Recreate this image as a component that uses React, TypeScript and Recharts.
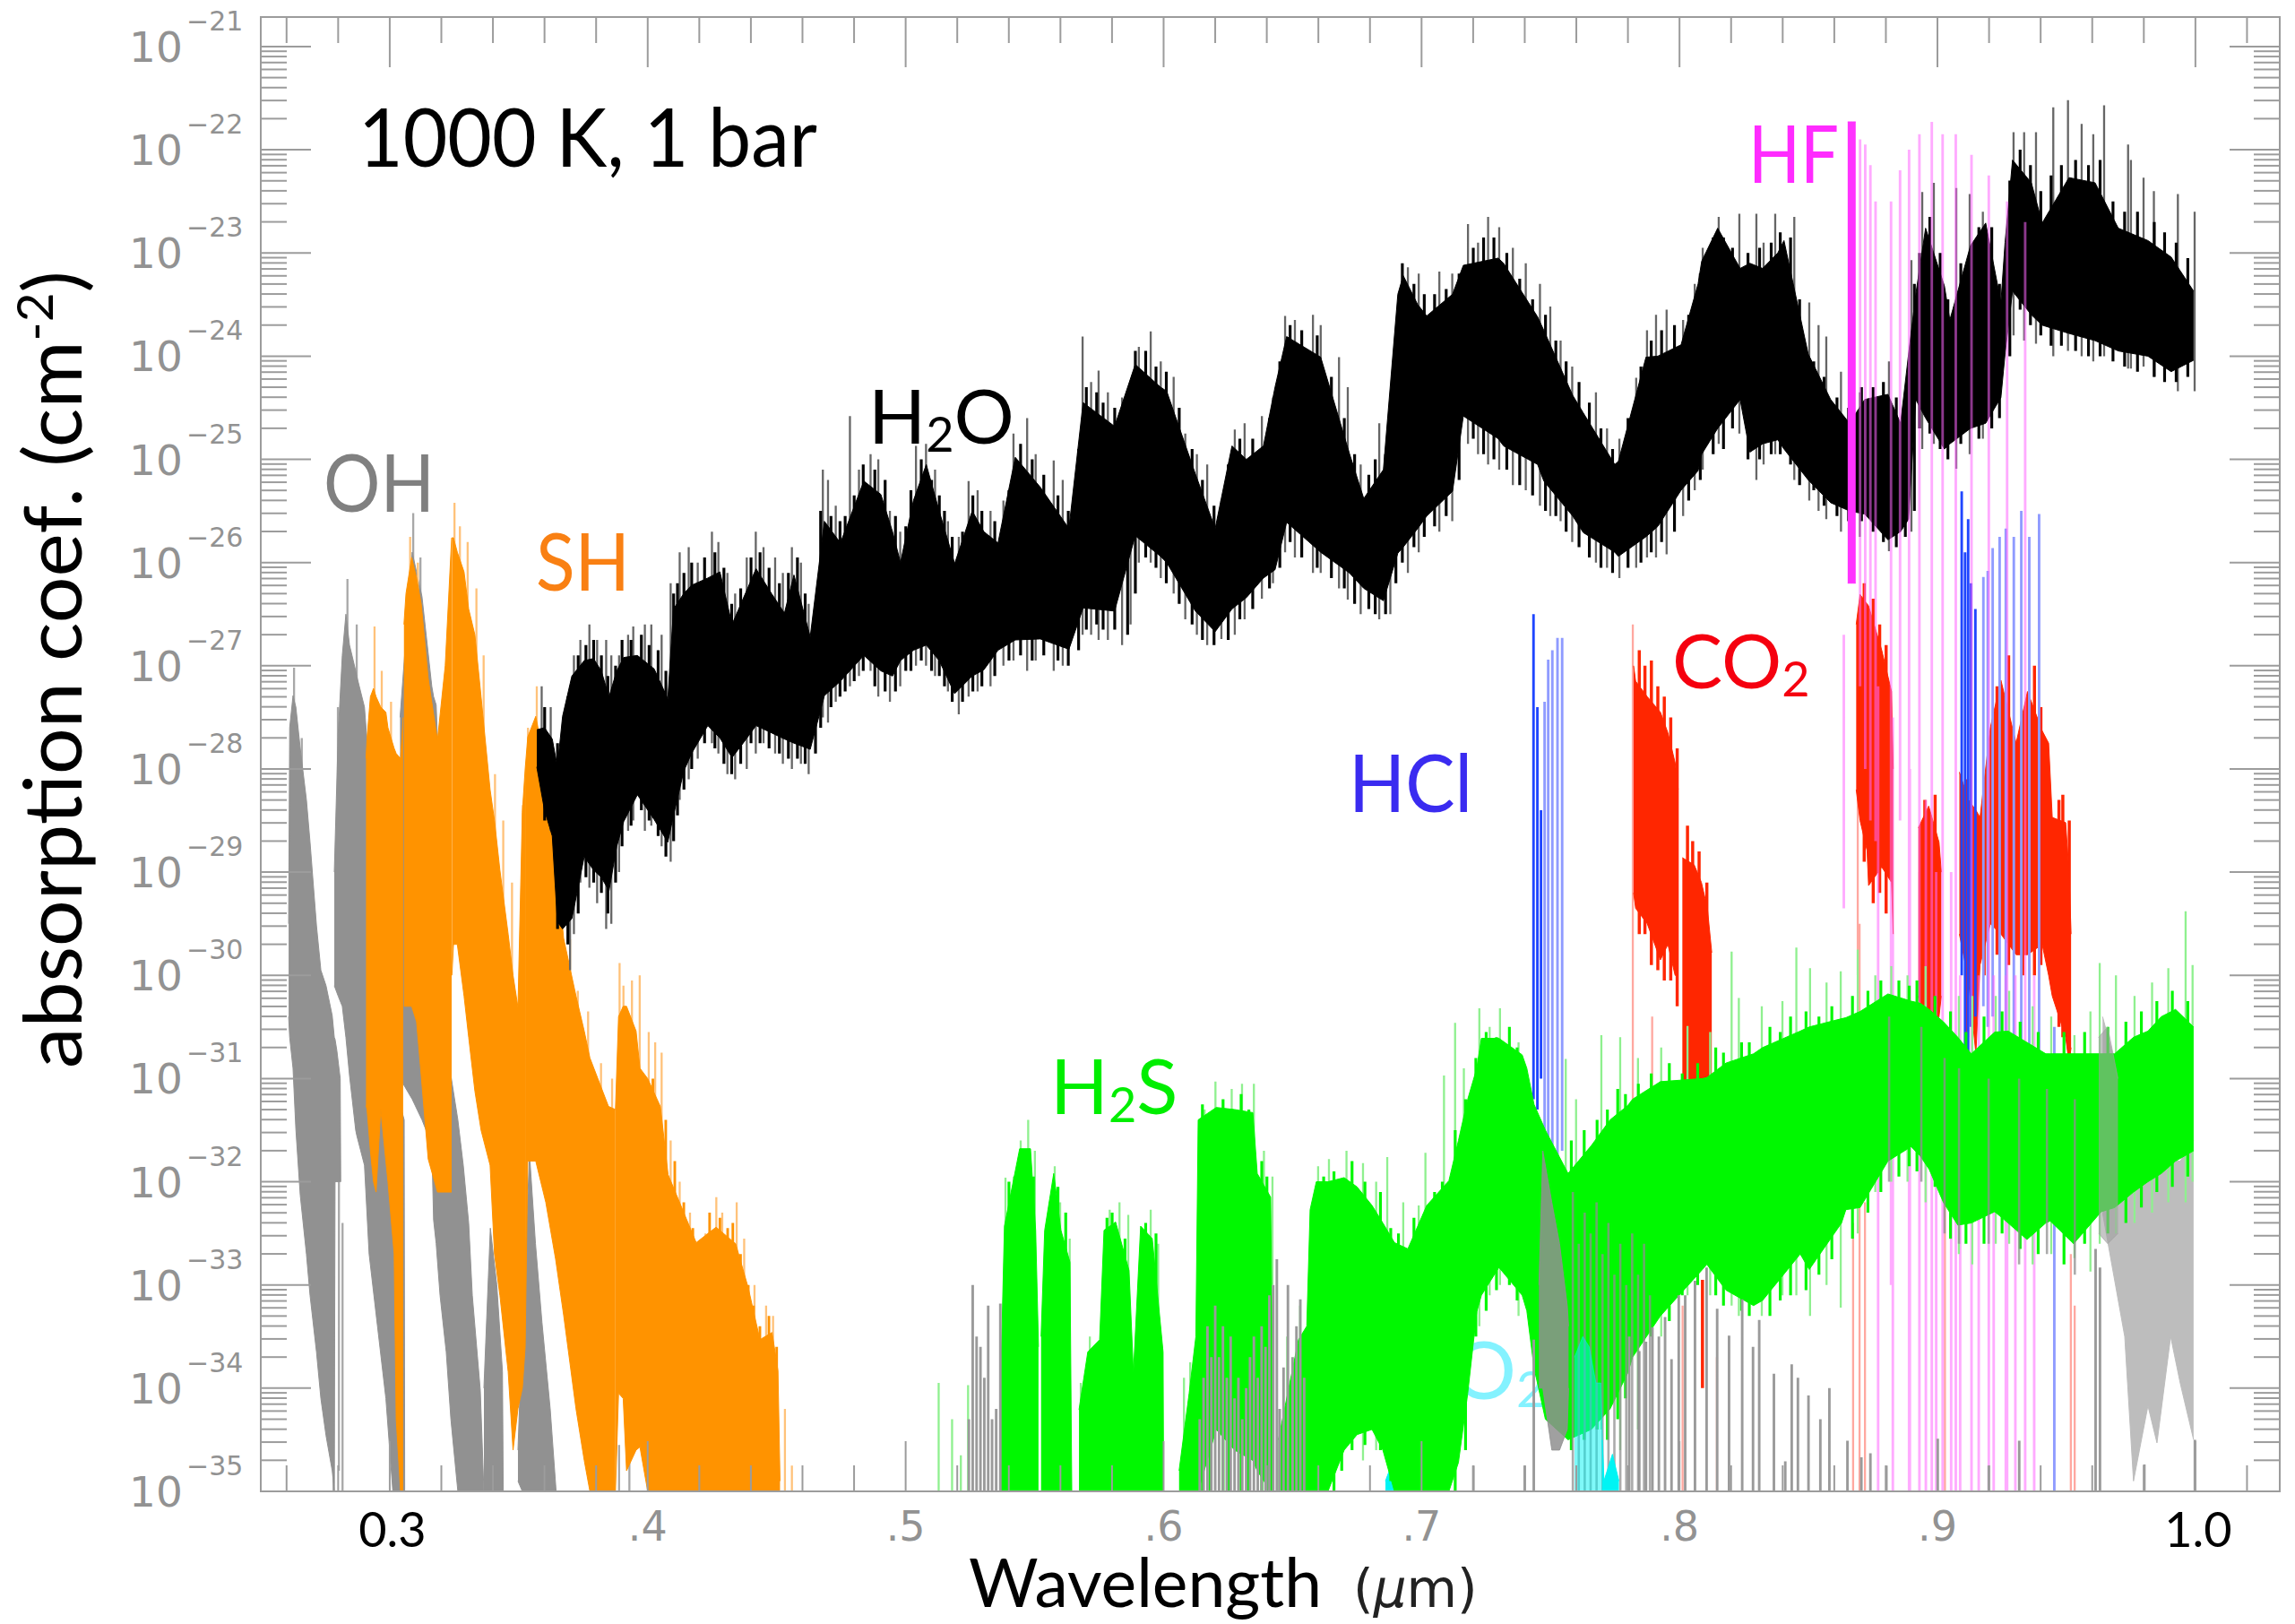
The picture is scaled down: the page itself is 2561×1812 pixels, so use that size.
import { Area, ComposedChart, ReferenceArea, XAxis, YAxis } from "recharts";

// log10 of the absorption coefficient is plotted, wavelength in microns
const FLOOR = -35;
const X_DOMAIN = [0.25, 1.0327];
const Y_DOMAIN = [-35, -20.714];

const xTicks = [0.26, 0.28, 0.3, 0.32, 0.34, 0.36, 0.38, 0.4, 0.42, 0.44, 0.46, 0.48, 0.5, 0.52, 0.54, 0.56, 0.58, 0.6, 0.62, 0.64, 0.66, 0.68, 0.7, 0.72, 0.74, 0.76, 0.78, 0.8, 0.82, 0.84, 0.86, 0.88, 0.9, 0.92, 0.94, 0.96, 0.98, 1.0, 1.02];
const grayXLabels = [0.4, 0.5, 0.6, 0.7, 0.8, 0.9];
const blackXLabels = [0.3, 1.0];
const decades = [-35, -34, -33, -32, -31, -30, -29, -28, -27, -26, -25, -24, -23, -22];
const multiples = [1, 2, 3, 4, 5, 6, 7, 8, 9];

// OH
const oh1X = [0.2608, 0.2612, 0.2625, 0.2636, 0.2653, 0.2677, 0.2691, 0.2716, 0.2733, 0.2753, 0.2777, 0.2785, 0.2788, 0.2795, 0.2808, 0.281];
const oh1Hi = [-29.5, -27.6, -27.29, -27.4, -27.8, -28.3, -28.71, -29.52, -29.95, -30.1, -30.39, -30.6, -30.62, -30.73, -31.0, -32.0];
const oh1Lo = [-30.4, -30.6, -30.9, -31.49, -32.13, -32.7, -33.1, -33.65, -34.1, -34.46, -34.8, -35, -32, -32, -32, -32];
const oh2X = [0.2785, 0.28, 0.2816, 0.283, 0.2844, 0.2868, 0.2872, 0.2902, 0.292, 0.2985, 0.3012, 0.3056, 0.3058];
const oh2Hi = [-29.0, -27.66, -26.9, -26.5, -26.8, -27.05, -27.1, -27.4, -28.0, -30.0, -31.0, -31.4, -35];
const oh2Lo = [-30.1, -30.2, -30.3, -30.6, -30.97, -31.5, -31.55, -31.84, -32.7, -34.1, -35, -35, -35];
const oh3X = [0.304, 0.3087, 0.3125, 0.3163, 0.317, 0.318, 0.3195, 0.3219, 0.3237, 0.3264, 0.3285, 0.3306, 0.332, 0.3351, 0.3365];
const oh3Hi = [-27.5, -25.9, -26.33, -27.2, -27.3, -27.38, -28.4, -29.6, -30.97, -31.4, -31.84, -32.4, -33.1, -34.02, -35];
const oh3Lo = [-31.0, -31.2, -31.4, -31.64, -32.37, -32.6, -33.1, -33.65, -34.3, -35, -35, -35, -35, -35, -35];
const oh4X = [0.3365, 0.339, 0.3415, 0.3437, 0.344];
const oh4Hi = [-34.0, -32.45, -33.0, -33.84, -35];
const oh4Lo = [-35, -35, -35, -35, -35];
const oh5X = [0.3497, 0.3514, 0.3542, 0.3565, 0.359, 0.3622, 0.3645];
const oh5Hi = [-34.6, -33.4, -31.74, -32.6, -33.36, -34.2, -35];
const oh5Lo = [-34.9, -35, -35, -35, -35, -35, -35];
const ohHairX = [0.2625, 0.2655, 0.2832, 0.2795, 0.2868, 0.3087, 0.3115, 0.3015, 0.2813, 0.2799, 0.2778, 0.3302, 0.3785, 0.3885, 0.3925];
const ohHairTop = [-27.02, -27.7, -26.16, -27.4, -26.6, -25.52, -25.95, -30.5, -32.4, -32.0, -33.4, -32.7, -34.45, -34.55, -34.45];
const ohHairLow = [-29, -30, -29, -30, -29, -28, -28, -33, -35, -34.8, -35, -34, -35, -35, -35];

// SH
const sh1X = [0.2908, 0.2912, 0.2925, 0.2937, 0.2947, 0.2965, 0.2985, 0.2993, 0.3017, 0.3025, 0.3042, 0.3052];
const sh1Hi = [-27.9, -27.7, -27.3, -27.22, -27.3, -27.4, -27.45, -27.6, -27.8, -27.85, -27.9, -27.5];
const sh1Lo = [-31.26, -31.3, -31.7, -32.0, -32.1, -31.3, -31.8, -32.0, -32.7, -34.3, -35, -35];
const sh2X = [0.3055, 0.3063, 0.3085, 0.3104, 0.3122, 0.3149, 0.3185, 0.3215, 0.324];
const sh2Hi = [-26.6, -26.3, -25.95, -26.15, -26.4, -27.12, -27.72, -27.0, -25.76];
const sh2Lo = [-30.3, -30.3, -30.3, -30.45, -30.97, -31.78, -32.1, -32.1, -32.1];
const sh3X = [0.3241, 0.3247, 0.3262, 0.3288, 0.3306, 0.333, 0.3354, 0.3389, 0.3406, 0.3427, 0.3459, 0.3478, 0.3497, 0.3514, 0.3525];
const sh3Hi = [-25.76, -25.76, -25.9, -26.09, -26.45, -26.7, -27.3, -28.2, -28.5, -28.98, -29.6, -30.0, -30.31, -28.42, -28.0];
const sh3Lo = [-30.0, -29.7, -29.7, -30.2, -30.6, -31.12, -31.5, -31.84, -32.7, -33.1, -33.84, -34.6, -34.2, -34.0, -33.6];
const sh4X = [0.3525, 0.3535, 0.3566, 0.3605, 0.3643, 0.3674, 0.3722, 0.3754, 0.3776, 0.3848, 0.3875];
const sh4Hi = [-28.0, -27.69, -27.49, -28.0, -28.82, -29.64, -30.2, -30.54, -30.8, -31.27, -31.3];
const sh4Lo = [-33.6, -31.8, -31.8, -32.2, -32.75, -33.29, -34.2, -34.7, -35, -35, -35];
const sh5X = [0.3875, 0.3887, 0.3905, 0.3918, 0.3955, 0.397, 0.4, 0.4049, 0.4079, 0.4188, 0.4265, 0.4341, 0.439, 0.4435, 0.4482, 0.4505, 0.4513];
const sh5Hi = [-31.3, -30.4, -30.3, -30.3, -30.54, -30.9, -31.0, -31.27, -31.93, -32.59, -32.44, -32.6, -33.03, -33.53, -33.46, -33.83, -34.9];
const sh5Lo = [-35, -34.05, -34.1, -34.8, -34.6, -34.57, -35, -35, -35, -35, -35, -35, -35, -35, -35, -35, -35];
const shHairX = [0.2937, 0.2965, 0.3001, 0.3075, 0.3105, 0.3247, 0.3268, 0.3298, 0.3332, 0.336, 0.3404, 0.3436, 0.347, 0.3512, 0.3532, 0.3566, 0.3695, 0.3725, 0.3765, 0.3815, 0.3858, 0.3887, 0.3902, 0.3935, 0.3965, 0.4, 0.4025, 0.405, 0.4085, 0.412, 0.416, 0.422, 0.4262, 0.4285, 0.4341, 0.437, 0.441, 0.4455, 0.4482, 0.4528, 0.4555];
const shHairTop = [-26.62, -27.05, -27.35, -25.75, -26.0, -25.42, -25.65, -25.8, -26.25, -26.9, -28.05, -28.5, -29.1, -28.35, -27.6, -27.2, -29.65, -30.15, -30.35, -30.85, -31.0, -29.88, -30.1, -30.05, -30.0, -30.55, -30.65, -30.75, -31.6, -32.0, -32.3, -32.5, -32.15, -32.3, -32.2, -32.55, -33.0, -33.2, -33.3, -34.2, -34.75];
const shHairLow = [-28, -28, -28, -28, -28, -28, -28, -28, -28, -29, -30, -31, -32, -30, -29, -29, -31, -32, -32, -33, -33, -32, -32, -32, -32, -33, -33, -33, -33, -34, -34, -34, -34, -34, -34, -34, -34, -34, -34, -35, -35];
const shFuzzX = [0.4015, 0.4065, 0.41, 0.4135, 0.417, 0.4205, 0.4235, 0.4275, 0.4305, 0.4325, 0.4355, 0.4385, 0.4405, 0.443, 0.4465, 0.4495];
const shFuzzTop = [-31.0, -31.4, -31.8, -32.2, -32.45, -32.6, -32.3, -32.35, -32.45, -32.4, -32.7, -33.0, -33.2, -33.4, -33.3, -33.6];

// H2O
const h2oX = [0.357, 0.36, 0.363, 0.365, 0.367, 0.3706, 0.3754, 0.379, 0.382, 0.385, 0.388, 0.3907, 0.396, 0.4025, 0.4078, 0.41, 0.414, 0.417, 0.4233, 0.428, 0.4327, 0.437, 0.442, 0.448, 0.453, 0.4567, 0.463, 0.4685, 0.4747, 0.4838, 0.4904, 0.4949, 0.498, 0.503, 0.508, 0.513, 0.519, 0.5258, 0.5303, 0.5358, 0.5425, 0.5522, 0.5633, 0.5688, 0.581, 0.589, 0.5988, 0.6012, 0.6123, 0.62, 0.6265, 0.6321, 0.6387, 0.6432, 0.6477, 0.6609, 0.672, 0.6776, 0.6852, 0.6908, 0.6929, 0.6985, 0.702, 0.712, 0.7162, 0.7297, 0.7318, 0.745, 0.7474, 0.7586, 0.7627, 0.7749, 0.7763, 0.787, 0.7916, 0.8006, 0.8072, 0.8086, 0.8148, 0.8235, 0.8273, 0.8322, 0.8381, 0.8405, 0.8499, 0.8586, 0.8659, 0.8718, 0.8808, 0.8857, 0.8888, 0.8916, 0.8954, 0.9027, 0.9048, 0.9128, 0.9187, 0.9246, 0.9262, 0.9291, 0.9364, 0.9406, 0.951, 0.9611, 0.9701, 0.9816, 0.9906, 0.9993];
const h2oHi = [-27.62, -27.6, -27.71, -27.98, -27.49, -27.1, -26.95, -26.93, -27.05, -27.3, -27.05, -26.92, -26.9, -27.03, -27.32, -26.45, -26.3, -26.22, -26.15, -26.09, -26.6, -26.35, -26.06, -26.3, -26.49, -26.12, -26.72, -25.6, -25.81, -25.21, -25.34, -25.7, -26.0, -25.4, -25.05, -25.5, -26.01, -25.5, -25.7, -25.81, -24.98, -25.27, -25.67, -24.45, -24.68, -24.08, -24.3, -24.34, -25.14, -25.67, -24.87, -25.0, -24.87, -24.3, -23.81, -24.01, -24.94, -25.38, -25.1, -23.4, -23.22, -23.5, -23.61, -23.4, -23.12, -23.05, -23.1, -23.62, -23.75, -24.38, -24.55, -25.05, -25.02, -24.01, -24.0, -23.89, -23.3, -23.08, -22.76, -23.15, -23.1, -23.15, -23.0, -22.88, -23.98, -24.42, -24.65, -24.42, -24.37, -24.65, -23.98, -23.4, -22.76, -23.32, -23.65, -22.93, -22.71, -23.48, -22.9, -22.1, -22.32, -22.71, -22.27, -22.32, -22.76, -22.88, -23.04, -23.37];
const h2oLo = [-27.98, -28.4, -28.65, -29.48, -29.55, -29.45, -28.85, -28.98, -29.05, -29.18, -28.75, -28.51, -28.25, -28.49, -28.71, -28.45, -28.02, -27.85, -27.58, -27.7, -27.89, -27.75, -27.58, -27.65, -27.71, -27.75, -27.81, -27.29, -27.15, -26.9, -27.05, -27.1, -26.95, -26.85, -26.8, -26.95, -27.27, -27.1, -27.04, -26.85, -26.75, -26.74, -26.84, -26.44, -26.47, -25.74, -25.94, -26.0, -26.47, -26.67, -26.45, -26.34, -26.15, -26.07, -25.61, -25.9, -26.1, -26.25, -26.37, -25.91, -25.85, -25.67, -25.55, -25.31, -24.58, -24.8, -24.87, -25.05, -25.21, -25.55, -25.71, -25.9, -25.94, -25.75, -25.65, -25.3, -25.11, -24.95, -24.7, -24.42, -24.93, -24.85, -24.81, -24.9, -25.2, -25.42, -25.5, -25.53, -25.78, -25.7, -25.58, -24.42, -24.6, -24.9, -24.85, -24.7, -24.65, -24.4, -23.98, -23.37, -23.6, -23.7, -23.78, -23.85, -23.95, -24.0, -24.15, -24.04];
const h2oHairX = [0.3585, 0.362, 0.3695, 0.371, 0.3735, 0.377, 0.38, 0.3835, 0.3855, 0.3885, 0.392, 0.394, 0.3985, 0.401, 0.405, 0.4085, 0.412, 0.4155, 0.419, 0.4245, 0.427, 0.4305, 0.4335, 0.438, 0.4415, 0.4445, 0.449, 0.452, 0.4555, 0.459, 0.462, 0.4675, 0.4695, 0.4725, 0.478, 0.4815, 0.486, 0.489, 0.4935, 0.4975, 0.5036, 0.5075, 0.511, 0.516, 0.5202, 0.524, 0.5275, 0.5325, 0.5375, 0.5414, 0.5467, 0.55, 0.557, 0.5605, 0.5682, 0.5715, 0.5744, 0.578, 0.5835, 0.5868, 0.59, 0.5946, 0.5985, 0.6035, 0.608, 0.6125, 0.6165, 0.622, 0.6272, 0.631, 0.6377, 0.642, 0.6467, 0.6505, 0.6575, 0.6605, 0.6676, 0.671, 0.676, 0.6832, 0.6875, 0.6943, 0.6985, 0.7065, 0.7115, 0.7176, 0.7215, 0.7254, 0.7297, 0.735, 0.74, 0.7455, 0.7495, 0.7535, 0.758, 0.7672, 0.7715, 0.7763, 0.7828, 0.787, 0.7905, 0.7946, 0.801, 0.8055, 0.8086, 0.8148, 0.8228, 0.8294, 0.8322, 0.8367, 0.8441, 0.8499, 0.8535, 0.8565, 0.8622, 0.8695, 0.8808, 0.8895, 0.8937, 0.8982, 0.9069, 0.9121, 0.9172, 0.9291, 0.9332, 0.9378, 0.9445, 0.9502, 0.9555, 0.96, 0.9642, 0.9735, 0.9746, 0.9795, 0.9835, 0.9928, 0.9993];
const h2oHairTop = [-27.2, -27.4, -27.2, -26.9, -26.75, -26.6, -26.75, -26.75, -26.9, -26.9, -26.7, -26.62, -26.6, -26.6, -26.7, -26.2, -25.9, -25.85, -26.0, -25.7, -25.8, -26.1, -26.3, -25.95, -25.7, -25.85, -25.95, -26.1, -25.85, -26.0, -26.4, -25.1, -25.2, -25.45, -24.58, -25.1, -24.95, -25.0, -25.5, -25.7, -24.87, -24.85, -25.1, -25.6, -25.75, -25.21, -25.3, -25.5, -25.4, -24.75, -24.6, -24.95, -25.01, -25.2, -23.81, -24.25, -24.14, -24.35, -24.4, -24.5, -23.91, -23.76, -24.05, -24.2, -24.75, -24.95, -25.05, -25.4, -24.71, -24.65, -24.58, -24.4, -23.61, -23.65, -23.6, -23.7, -24.01, -24.3, -25.05, -24.65, -24.85, -23.14, -23.2, -23.18, -23.2, -22.72, -22.9, -22.65, -22.75, -22.95, -23.1, -23.3, -23.52, -23.85, -24.1, -24.35, -24.7, -24.8, -24.21, -23.75, -23.6, -23.55, -23.65, -23.3, -22.95, -22.65, -22.62, -22.62, -22.9, -22.62, -22.65, -23.48, -23.7, -23.81, -24.15, -24.35, -24.05, -23.07, -22.41, -22.32, -22.37, -22.43, -22.6, -21.83, -21.83, -21.83, -21.59, -21.52, -21.75, -21.85, -21.57, -21.95, -22.1, -22.27, -22.4, -22.43, -22.6];
const h2oHairLow = [-28.2, -28.6, -29.95, -29.6, -29.1, -29.15, -29.3, -29.55, -29.5, -29.0, -28.6, -28.5, -28.6, -28.55, -28.75, -28.9, -28.3, -28.1, -27.9, -27.75, -27.85, -28.05, -28.1, -28.0, -27.85, -27.75, -27.85, -27.95, -28.0, -27.95, -28.05, -27.5, -27.55, -27.35, -27.2, -27.1, -27.05, -27.3, -27.35, -27.2, -27.0, -27.0, -27.1, -27.25, -27.47, -27.3, -27.25, -27.2, -27.0, -26.95, -27.05, -26.95, -27.05, -27.0, -26.7, -26.7, -26.75, -26.75, -26.8, -26.6, -26.0, -26.0, -26.15, -26.3, -26.55, -26.7, -26.8, -26.74, -26.7, -26.55, -26.35, -26.2, -25.9, -25.95, -26.1, -26.1, -26.25, -26.36, -26.5, -26.55, -26.5, -26.1, -25.9, -25.7, -25.6, -24.85, -24.95, -25.05, -25.1, -25.25, -25.3, -25.45, -25.55, -25.6, -25.8, -26.0, -26.05, -26.15, -26.05, -25.95, -25.95, -25.92, -25.55, -25.3, -25.1, -24.85, -24.75, -25.2, -25.05, -24.95, -25.2, -25.4, -25.5, -25.58, -25.7, -25.75, -25.89, -25.7, -24.9, -24.85, -25.09, -24.95, -24.8, -23.8, -23.85, -23.88, -24.0, -23.95, -24.0, -24.05, -24.0, -24.12, -24.12, -24.1, -24.2, -24.34, -24.34];
const h2oFuzzX = [0.3595, 0.3645, 0.3685, 0.3725, 0.3755, 0.3785, 0.3815, 0.384, 0.387, 0.3895, 0.393, 0.397, 0.4, 0.4035, 0.4065, 0.4095, 0.411, 0.4135, 0.4165, 0.4215, 0.4255, 0.429, 0.432, 0.4355, 0.4395, 0.443, 0.4465, 0.4505, 0.454, 0.4575, 0.4605, 0.4645, 0.4665, 0.4705, 0.474, 0.476, 0.4795, 0.483, 0.4875, 0.4915, 0.4955, 0.4995, 0.5015, 0.5055, 0.5095, 0.5125, 0.5145, 0.5175, 0.5215, 0.5255, 0.529, 0.534, 0.5395, 0.544, 0.5485, 0.553, 0.5585, 0.5625, 0.5665, 0.5695, 0.5735, 0.576, 0.5805, 0.5855, 0.5885, 0.5925, 0.5965, 0.6005, 0.6055, 0.6105, 0.6145, 0.619, 0.6245, 0.629, 0.634, 0.6405, 0.6445, 0.6485, 0.653, 0.659, 0.6645, 0.6695, 0.6735, 0.679, 0.6815, 0.6855, 0.6895, 0.692, 0.6965, 0.7005, 0.7045, 0.709, 0.714, 0.7195, 0.7235, 0.7275, 0.7325, 0.7375, 0.7425, 0.7475, 0.7515, 0.7555, 0.7605, 0.7645, 0.769, 0.7735, 0.7795, 0.7845, 0.7885, 0.7925, 0.7975, 0.803, 0.8075, 0.8125, 0.8165, 0.82, 0.826, 0.8305, 0.835, 0.8385, 0.8425, 0.846, 0.8515, 0.8555, 0.8605, 0.865, 0.87, 0.8745, 0.8785, 0.8835, 0.887, 0.8905, 0.8925, 0.8965, 0.9005, 0.9035, 0.9085, 0.9155, 0.9205, 0.9235, 0.9275, 0.9315, 0.9355, 0.9395, 0.9435, 0.9475, 0.953, 0.958, 0.9625, 0.9675, 0.972, 0.977, 0.9835, 0.9875, 0.992, 0.9965];
const h2oFuzzTop = [-27.4, -27.75, -27.3, -26.9, -26.8, -26.75, -26.9, -27.1, -27.0, -26.75, -26.75, -26.7, -26.8, -26.85, -27.05, -26.3, -26.2, -26.1, -26.0, -25.95, -25.9, -26.05, -26.4, -26.25, -25.95, -25.9, -26.05, -26.2, -26.1, -25.95, -26.3, -26.5, -25.5, -25.55, -25.6, -25.55, -25.35, -25.05, -25.1, -25.2, -25.55, -25.65, -25.3, -25.0, -25.2, -25.35, -25.5, -25.75, -25.7, -25.35, -25.5, -25.6, -25.3, -24.85, -25.0, -25.15, -25.35, -25.5, -24.9, -24.3, -24.35, -24.45, -24.5, -24.4, -23.95, -23.95, -24.1, -24.15, -24.5, -24.9, -25.2, -25.45, -25.05, -24.8, -24.8, -24.6, -24.05, -23.7, -23.75, -23.8, -24.2, -24.6, -24.95, -25.15, -25.0, -24.95, -24.3, -23.1, -23.3, -23.4, -23.4, -23.35, -23.2, -22.95, -22.85, -22.85, -23.0, -23.25, -23.45, -23.6, -23.85, -24.05, -24.25, -24.45, -24.7, -24.9, -24.6, -24.1, -23.85, -23.75, -23.7, -23.6, -23.2, -22.85, -22.85, -22.95, -23.0, -22.95, -22.9, -22.8, -22.85, -23.45, -24.05, -24.2, -24.4, -24.5, -24.3, -24.3, -24.25, -24.4, -24.45, -23.3, -23.0, -22.65, -23.0, -23.45, -23.1, -22.75, -22.75, -23.3, -22.3, -22.0, -22.15, -22.4, -22.25, -22.15, -22.1, -22.15, -22.1, -22.5, -22.6, -22.6, -22.7, -22.8, -22.9, -23.05];
const h2oFuzzLow = [-28.5, -29.55, -29.7, -29.4, -29.05, -29.1, -29.2, -29.4, -29.1, -28.75, -28.55, -28.4, -28.5, -28.65, -28.85, -28.7, -28.45, -28.2, -28.0, -27.75, -27.8, -27.95, -28.05, -27.95, -27.75, -27.75, -27.8, -27.85, -27.9, -27.9, -27.95, -27.85, -27.6, -27.4, -27.3, -27.25, -27.15, -27.05, -27.2, -27.25, -27.25, -27.05, -27.05, -26.95, -27.05, -27.1, -27.2, -27.35, -27.35, -27.25, -27.2, -27.1, -26.95, -26.9, -26.95, -26.9, -26.95, -27.0, -26.85, -26.65, -26.6, -26.65, -26.65, -26.7, -26.3, -25.95, -26.05, -26.2, -26.4, -26.6, -26.75, -26.8, -26.75, -26.55, -26.45, -26.25, -26.05, -25.8, -25.95, -26.05, -26.15, -26.25, -26.4, -26.45, -26.5, -26.5, -26.2, -26.0, -25.85, -25.75, -25.65, -25.55, -25.2, -24.8, -24.95, -25.0, -25.1, -25.25, -25.35, -25.5, -25.55, -25.7, -25.85, -25.95, -26.05, -26.1, -26.05, -26.0, -25.9, -25.8, -25.7, -25.4, -25.2, -24.95, -24.9, -24.7, -25.0, -25.0, -24.95, -24.95, -25.05, -25.25, -25.3, -25.45, -25.55, -25.6, -25.6, -25.7, -25.8, -25.85, -25.75, -25.5, -24.7, -24.75, -24.9, -25.0, -24.85, -24.8, -24.7, -24.6, -24.0, -23.55, -23.7, -23.8, -23.9, -23.9, -23.95, -24.0, -24.0, -24.05, -24.1, -24.15, -24.2, -24.25, -24.25, -24.2];

// CO2
const co21X = [0.7822, 0.783, 0.7875, 0.7926, 0.7955, 0.7983, 0.7995];
const co21Hi = [-27.0, -27.15, -27.3, -27.45, -27.65, -27.94, -28.2];
const co21Lo = [-29.2, -29.35, -29.5, -29.85, -29.7, -30.0, -30.0];
const co22X = [0.8011, 0.8057, 0.8085, 0.8108, 0.8125];
const co22Hi = [-28.86, -28.93, -29.1, -29.35, -29.78];
const co22Lo = [-31.2, -31.6, -31.5, -31.3, -31.2];
const co23X = [0.8685, 0.87, 0.8727, 0.8733, 0.8784, 0.8822, 0.88285];
const co23Hi = [-26.6, -26.31, -26.4, -26.42, -26.85, -27.25, -28.0];
const co23Lo = [-28.2, -28.5, -28.79, -29.13, -28.95, -29.1, -29.6];
const co24X = [0.8926, 0.8966, 0.9006, 0.9015];
const co24Hi = [-28.57, -28.36, -28.71, -29.0];
const co24Lo = [-30.2, -30.8, -30.4, -30.2];
const co25X = [0.9085, 0.912, 0.9149, 0.9165, 0.9205, 0.9246, 0.9305, 0.9349, 0.9406, 0.9431, 0.9445, 0.9497, 0.951, 0.9518];
const co25Hi = [-28.03, -28.3, -28.4, -28.47, -27.6, -27.14, -27.75, -27.25, -27.63, -27.75, -28.47, -28.52, -29.0, -29.6];
const co25Lo = [-29.6, -30.04, -30.76, -29.9, -29.5, -29.6, -29.8, -29.8, -29.7, -30.0, -30.2, -30.6, -30.85, -30.7];
const co2JagX = [0.7838, 0.786, 0.7885, 0.791, 0.7935, 0.796, 0.7985, 0.8025, 0.8045, 0.807, 0.81, 0.871, 0.8745, 0.877, 0.8795, 0.8945, 0.8985, 0.911, 0.9175, 0.9225, 0.927, 0.9325, 0.937, 0.9395, 0.9465, 0.948, 0.9505, 0.8083];
const co2JagTop = [-26.85, -27.0, -26.95, -27.2, -27.3, -27.5, -27.8, -28.55, -28.7, -28.8, -29.1, -26.2, -26.35, -26.6, -26.8, -28.3, -28.25, -28.1, -28.3, -27.2, -26.9, -27.5, -27.0, -27.4, -28.3, -28.25, -28.5, -32.95];
const co2JagLow = [-29.6, -29.6, -29.9, -29.95, -30.05, -30.05, -30.3, -31.5, -31.6, -31.6, -31.5, -28.9, -29.3, -29.2, -29.4, -30.6, -30.6, -30.6, -30, -29.8, -29.9, -30, -30, -29.9, -30.5, -30.6, -30.85, -34.0];
const co2ThinX = [0.7815, 0.789, 0.8008, 0.8141, 0.8669, 0.8687, 0.8694, 0.8715, 0.9513, 0.9528, 0.9025];
const co2ThinTop = [-26.6, -30.4, -33.2, -33.7, -32.4, -26.6, -29.5, -32.2, -32.7, -33.2, -30.5];
const co2ThinLow = [-31.5, -32, -35, -35, -35, -30, -35, -35, -35, -35, -35];

// HCl
const hclStrongX = [0.7429, 0.7444, 0.7458, 0.9089, 0.9102, 0.9114, 0.9125, 0.9142];
const hclStrongTop = [-26.5, -27.4, -28.4, -25.31, -25.9, -25.58, -26.2, -26.45];
const hclStrongLow = [-31.2, -31.3, -31.0, -30.0, -31.0, -30.9, -30.5, -30.4];
const hclPaleX = [0.7472, 0.7486, 0.7502, 0.7522, 0.754, 0.9173, 0.919, 0.9209, 0.9236, 0.926, 0.9291, 0.932, 0.9351, 0.9389, 0.9448];
const hclPaleTop = [-27.35, -26.94, -26.85, -26.73, -26.73, -26.14, -26.08, -25.86, -25.75, -25.67, -25.75, -25.5, -25.75, -25.53, -30.5];
const hclPaleLow = [-31.9, -31.9, -32, -31.8, -31.7, -30.3, -30.5, -30.4, -30.7, -31.1, -31.0, -31.2, -31.2, -31.4, -35];

// HF
const hfBandX = [0.8652, 0.8662, 0.8672, 0.8683];
const hfBandHi = [-21.73, -21.73, -21.73, -21.73];
const hfBandLo = [-26.2, -26.2, -26.2, -26.2];
const hfX = [0.8632, 0.8695, 0.8715, 0.8735, 0.8755, 0.8815, 0.885, 0.8885, 0.8925, 0.8973, 0.9015, 0.9066, 0.9127, 0.9194, 0.9265, 0.9335, 0.8765, 0.8822, 0.8888, 0.895, 0.899, 0.9048, 0.9083, 0.9155, 0.9213, 0.926, 0.9297, 0.9335, 0.937];
const hfTop = [-26.7, -21.9, -21.95, -22.15, -22.5, -22.5, -22.2, -22.0, -21.85, -21.73, -21.85, -21.85, -22.05, -22.25, -22.5, -22.7, -27.2, -27.5, -28.0, -28.3, -29.0, -29.0, -30.0, -30.0, -30.0, -30.0, -30.0, -30.0, -30.0];
const hfLow = [-29.35, -27.2, -28.0, -28.5, -28.7, -33, -28.5, -35, -35, -35, -35, -35, -35, -35, -35, -35, -35, -35, -35, -35, -35, -35, -35, -35, -35, -35, -35, -35, -35];

// H2S
const h2s1X = [0.5368, 0.5383, 0.5442, 0.5484, 0.5504, 0.5515];
const h2s1Hi = [-34.0, -32.43, -31.68, -31.68, -32.47, -33.6];
const h2s2X = [0.5525, 0.5539, 0.5574, 0.5602, 0.5637, 0.5644];
const h2s2Hi = [-33.5, -32.47, -31.92, -32.47, -32.78, -35];
const h2s3X = [0.5672, 0.5706, 0.5752, 0.5769, 0.5814, 0.5866, 0.5883, 0.5911, 0.5956, 0.5998, 0.6];
const h2s3Hi = [-34.21, -33.65, -33.53, -32.47, -32.39, -32.86, -33.85, -32.43, -32.55, -33.65, -35];
const h2s4X = [0.606, 0.6099, 0.6125, 0.6134, 0.6204, 0.6275, 0.6346, 0.6363, 0.6415, 0.6425];
const h2s4Hi = [-34.8, -34.05, -33.5, -31.4, -31.28, -31.3, -31.33, -31.92, -32.15, -34.5];
const h2s4Lo = [-35, -35, -35, -35, -34.4, -34.6, -34.7, -34.8, -35, -35];
const h2s5X = [0.6445, 0.6523, 0.6555, 0.6568, 0.6592, 0.6637, 0.67, 0.675, 0.6808, 0.685, 0.6895, 0.6947, 0.702, 0.7106, 0.7143, 0.7179, 0.7214, 0.7232, 0.73, 0.739, 0.7408, 0.7436, 0.748, 0.7568, 0.7658, 0.7731, 0.78, 0.7818, 0.7926, 0.8089, 0.8106, 0.818, 0.8287, 0.8322, 0.8468, 0.8503, 0.8628, 0.8645, 0.87, 0.8808, 0.8898, 0.8933, 0.8968, 0.9023, 0.9079, 0.9131, 0.9222, 0.9274, 0.9347, 0.942, 0.9437, 0.9528, 0.9635, 0.9687, 0.976, 0.9816, 0.9868, 0.9923, 0.9993];
const h2s5Hi = [-34.5, -33.53, -33.4, -32.27, -32.0, -32.0, -31.96, -32.05, -32.23, -32.4, -32.59, -32.65, -32.23, -31.99, -31.6, -31.2, -30.9, -30.61, -30.61, -30.77, -30.9, -31.25, -31.5, -31.92, -31.65, -31.4, -31.26, -31.2, -31.03, -31.0, -30.99, -30.85, -30.76, -30.7, -30.54, -30.5, -30.42, -30.41, -30.35, -30.18, -30.25, -30.27, -30.33, -30.45, -30.6, -30.76, -30.55, -30.54, -30.65, -30.76, -30.76, -30.76, -30.76, -30.76, -30.6, -30.54, -30.4, -30.33, -30.5];
const h2s5Lo = [-35, -35, -35, -35, -35, -35, -34.6, -34.45, -34.4, -34.6, -35, -35, -35, -35, -34.72, -34.05, -33.26, -33.1, -32.83, -33.1, -33.25, -33.8, -34.3, -34.5, -34.4, -34.2, -33.85, -33.7, -33.3, -32.85, -32.8, -33.05, -33.2, -33.15, -32.7, -32.85, -32.4, -32.27, -32.25, -31.8, -31.66, -31.75, -31.88, -32.2, -32.42, -32.4, -32.29, -32.4, -32.56, -32.4, -32.38, -32.6, -32.29, -32.25, -32.1, -32.0, -31.92, -31.8, -31.7];
const h2sHairX = [0.5124, 0.5176, 0.521, 0.5238, 0.5383, 0.5415, 0.5442, 0.5471, 0.5497, 0.5574, 0.5595, 0.5632, 0.5675, 0.571, 0.5787, 0.5825, 0.5859, 0.5946, 0.5975, 0.6075, 0.6099, 0.6155, 0.6197, 0.626, 0.63, 0.6346, 0.6385, 0.6418, 0.6475, 0.6525, 0.6595, 0.6637, 0.6705, 0.6769, 0.682, 0.6863, 0.6925, 0.6985, 0.7011, 0.7083, 0.7126, 0.716, 0.722, 0.726, 0.73, 0.7372, 0.7555, 0.7595, 0.7693, 0.7766, 0.7835, 0.7925, 0.8027, 0.8115, 0.8198, 0.8226, 0.8315, 0.8395, 0.8449, 0.8502, 0.8566, 0.8621, 0.8687, 0.8755, 0.8817, 0.888, 0.895, 0.9079, 0.9131, 0.9222, 0.9274, 0.9365, 0.9437, 0.9527, 0.9589, 0.9625, 0.9688, 0.976, 0.9828, 0.9891, 0.9958, 0.9985];
const h2sHairTop = [-33.95, -34.3, -34.65, -33.97, -31.96, -31.95, -31.6, -31.4, -31.7, -31.85, -32.2, -32.55, -33.95, -33.5, -32.27, -32.2, -32.32, -32.27, -32.6, -33.9, -33.75, -31.3, -31.03, -31.1, -31.05, -31.05, -31.7, -31.95, -33.5, -33.2, -31.85, -31.78, -31.7, -31.82, -32.0, -31.76, -32.2, -32.23, -31.72, -30.97, -30.46, -30.9, -30.32, -30.5, -30.32, -30.65, -30.81, -31.2, -30.58, -30.6, -30.8, -30.7, -30.49, -30.55, -29.77, -30.22, -30.3, -30.25, -29.73, -29.93, -30.07, -29.96, -29.75, -30.0, -29.91, -30.0, -29.91, -30.2, -30.2, -30.2, -30.15, -30.3, -30.4, -30.58, -30.35, -29.88, -30.0, -30.2, -30.07, -29.93, -29.38, -29.9];
const h2sHairLow = [-35, -35, -35, -35, -33.5, -33, -33, -33, -33, -33, -33, -33.5, -35, -35, -33.5, -33.5, -33.5, -33.5, -33.5, -35, -35, -33, -33, -33, -33, -33, -33, -33, -35, -35, -33.5, -33.5, -33.5, -34.7, -34.6, -34.6, -33.5, -33.5, -33, -33, -32.5, -33, -33.4, -33.1, -33, -33.3, -33.4, -33.9, -34.4, -34.6, -34.4, -33.5, -33.1, -33.1, -33.2, -33.3, -33.3, -33.1, -33.1, -33.3, -33.0, -33.22, -32.5, -32.1, -32.0, -32.0, -32.2, -32.7, -32.8, -32.6, -32.6, -32.8, -32.7, -32.74, -32.87, -32.6, -32.5, -32.4, -32.3, -32.2, -32.2, -32.0];
const h2sFuzzX = [0.5395, 0.5425, 0.5465, 0.549, 0.5555, 0.5585, 0.5615, 0.5775, 0.5795, 0.5845, 0.5925, 0.5965, 0.6145, 0.6175, 0.6225, 0.6245, 0.6295, 0.6325, 0.6375, 0.6395, 0.6585, 0.6615, 0.6655, 0.6685, 0.6725, 0.6775, 0.6835, 0.6875, 0.6905, 0.6965, 0.6995, 0.7045, 0.7075, 0.7125, 0.7165, 0.7205, 0.7245, 0.7285, 0.7335, 0.7365, 0.7575, 0.7625, 0.7675, 0.7715, 0.7755, 0.7785, 0.7835, 0.7885, 0.7955, 0.8005, 0.8065, 0.8135, 0.8165, 0.8235, 0.8265, 0.8345, 0.8385, 0.8425, 0.8485, 0.8535, 0.8585, 0.8665, 0.8725, 0.8775, 0.8845, 0.8885, 0.8915, 0.8985, 0.9045, 0.9105, 0.9175, 0.9245, 0.9315, 0.9385, 0.9485, 0.9565, 0.9655, 0.9725, 0.9785, 0.9845, 0.9905, 0.9965];
const h2sFuzzTop = [-32.0, -31.9, -31.75, -31.95, -32.2, -32.05, -32.3, -32.35, -32.3, -32.55, -32.4, -32.5, -31.25, -31.35, -31.2, -31.4, -31.15, -31.3, -31.8, -31.95, -32.1, -31.95, -31.9, -32.1, -31.8, -32.0, -32.1, -32.45, -32.5, -32.35, -32.45, -32.1, -32.0, -31.5, -31.2, -30.8, -30.55, -30.6, -30.5, -30.7, -31.6, -31.5, -31.4, -31.3, -31.1, -31.15, -31.05, -30.95, -30.85, -30.95, -30.85, -30.7, -30.75, -30.65, -30.65, -30.5, -30.55, -30.4, -30.35, -30.4, -30.3, -30.2, -30.15, -30.05, -30.05, -30.1, -30.05, -30.2, -30.35, -30.55, -30.4, -30.35, -30.45, -30.55, -30.55, -30.55, -30.5, -30.45, -30.35, -30.25, -30.15, -30.25];
const h2sFuzzLow = [-35, -35, -35, -35, -35, -35, -35, -35, -35, -35, -35, -35, -35, -35, -35, -35, -35, -35, -35, -35, -35, -35, -35, -34.8, -34.6, -34.55, -34.6, -34.9, -35, -35, -35, -35, -35, -35, -34.6, -33.5, -33.25, -33.05, -33.0, -33.15, -34.6, -34.5, -34.4, -34.5, -34.3, -34.1, -33.6, -33.5, -33.35, -33.1, -33.0, -33.1, -33.2, -33.25, -33.3, -33.3, -33.15, -33.1, -33.05, -32.9, -32.75, -32.55, -32.3, -32.1, -31.95, -31.85, -31.9, -32.05, -32.55, -32.6, -32.6, -32.5, -32.65, -32.7, -32.8, -32.6, -32.5, -32.4, -32.25, -32.1, -32.05, -31.95];

// O2
const o21X = [0.686, 0.689, 0.692, 0.695];
const o21Hi = [-34.9, -34.7, -34.6, -34.9];
const o22X = [0.7593, 0.7625, 0.765, 0.7676, 0.7695, 0.7707];
const o22Hi = [-33.7, -33.5, -33.6, -33.95, -33.95, -34.9];
const o23X = [0.77, 0.7707, 0.774, 0.7765];
const o23Hi = [-34.5, -34.9, -34.64, -34.9];

// OH lines that show over and under the H2S
const ohMixDX = [0.7455, 0.747, 0.7505, 0.7535, 0.7565, 0.757];
const ohMixDHi = [-33.0, -31.7, -32.2, -32.6, -33.2, -33.4];
const ohMixDLo = [-34.0, -34.0, -34.6, -34.6, -34.4, -34.0];
const ohMixEX = [0.964, 0.9726, 0.976, 0.9816, 0.9851, 0.9904, 0.9941, 0.9993];
const ohMixEHi = [-30.4, -31.2, -32.0, -32.0, -31.9, -31.8, -31.8, -31.6];
const ohMixELo = [-32.3, -33.5, -34.9, -34.17, -34.53, -33.5, -33.95, -34.5];
const ohMixFX = [0.9625, 0.966, 0.97];
const ohMixFHi = [-30.6, -30.5, -31.0];
const ohMixFLo = [-32.5, -32.6, -32.5];
const ohOverX = [0.7582, 0.7605, 0.7628, 0.7651, 0.7674, 0.7697, 0.772, 0.7743, 0.7766, 0.7789, 0.7812, 0.7835, 0.7858, 0.7881, 0.8808, 0.8933, 0.9023, 0.9079, 0.9194, 0.9312, 0.942, 0.9528];
const ohOverTop = [-32.1, -32.6, -32.3, -32.5, -32.2, -32.7, -32.4, -32.9, -32.6, -33.0, -32.5, -32.9, -32.6, -33.1, -30.4, -30.5, -30.8, -30.9, -31.0, -31.0, -31.1, -31.2];
const ohOverLow = [-35, -35, -35, -35, -35, -35, -35, -35, -35, -35, -35, -35, -35, -35, -32, -32, -32.5, -32.6, -32.6, -32.8, -32.7, -32.9];
const ohForestX = [0.524, 0.5255, 0.527, 0.5285, 0.53, 0.5315, 0.533, 0.5346, 0.5362, 0.6135, 0.615, 0.6165, 0.618, 0.6195, 0.621, 0.6225, 0.624, 0.6255, 0.627, 0.6285, 0.63, 0.6315, 0.633, 0.6345, 0.636, 0.6375, 0.639, 0.6405, 0.642, 0.6434, 0.6445, 0.646, 0.6477, 0.6495, 0.651, 0.6525, 0.654, 0.7196, 0.7395, 0.743, 0.78, 0.7839, 0.7865, 0.789, 0.7915, 0.7939, 0.7964, 0.7992, 0.8017, 0.8055, 0.81, 0.8141, 0.8187, 0.8238, 0.828, 0.8304, 0.8361, 0.8405, 0.843, 0.8454, 0.8495, 0.8541, 0.8576, 0.8646, 0.87, 0.8735, 0.8797, 0.8996, 0.9194, 0.9312, 0.9608, 0.9625, 0.9797, 0.9993];
const ohForestTop = [-34.3, -33.0, -33.5, -33.6, -33.9, -33.2, -34.3, -34.2, -33.18, -34.3, -33.9, -33.4, -33.7, -33.2, -33.7, -33.4, -33.9, -33.5, -34.1, -33.9, -34.3, -34.0, -33.7, -33.5, -33.9, -33.4, -33.6, -33.1, -33.0, -32.75, -34.2, -33.8, -33.0, -33.7, -33.4, -33.14, -33.9, -34.75, -34.75, -33.53, -33.5, -33.64, -33.55, -33.41, -33.5, -33.31, -33.72, -33.1, -33.1, -32.96, -32.83, -33.23, -33.49, -33.14, -33.6, -33.34, -33.86, -34.71, -33.77, -33.9, -34.07, -34.3, -34.0, -34.51, -34.67, -34.63, -34.75, -34.49, -34.75, -34.51, -32.65, -32.83, -34.74, -34.5];

const rangeRows = (xs: number[], hi: number[], lo?: number[]) =>
  xs.map((x, i) => ({ x, range: [lo ? lo[i] : FLOOR, hi[i]] }));

// a stick is a thin two-point range followed by a gap
const STICK_W = 0.0008;
const stickRows = (xs: number[], top: number[], low?: number[], w = STICK_W) =>
  xs.flatMap((x, i) => {
    const range = [low ? low[i] : FLOOR, top[i]];
    return [
      { x, range },
      { x: x + w, range },
      { x: x + w, range: null },
    ];
  });

const axisGray = "#9c9c9c";
const labelGray = "#929292";
const plotTop = 19;
const plotBottom = 1664;
const plotLeft = 291;
const plotRight = 2544;

function Band({ rows, color, opacity = 1, line = 1 }: { rows: any[]; color: string; opacity?: number; line?: number }) {
  return (
    <Area
      data={rows}
      dataKey="range"
      type="linear"
      fill={color}
      fillOpacity={opacity}
      stroke={line ? color : "none"}
      strokeOpacity={opacity}
      strokeWidth={line}
      dot={false}
      activeDot={false}
      isAnimationActive={false}
    />
  );
}

function XTick({ x, payload }: any) {
  const v = payload.value;
  const major = Math.round(v * 100) % 10 === 0;
  const len = major ? 56 : 29;
  const black = blackXLabels.includes(v);
  const gray = grayXLabels.includes(v);
  return (
    <g>
      <line x1={x} x2={x} y1={plotBottom} y2={plotBottom - len} stroke={axisGray} strokeWidth={2} />
      <line x1={x} x2={x} y1={plotTop} y2={plotTop + len} stroke={axisGray} strokeWidth={2} />
      {black && (
        <text x={x + 3} y={1726} textAnchor="middle" fontFamily="Lato" fontSize={54} fill="#000">
          {v.toFixed(1)}
        </text>
      )}
      {gray && (
        <text x={x} y={1719} textAnchor="middle" fontFamily="DejaVu Sans" fontSize={46} fill={labelGray}>
          {v.toFixed(1).slice(1)}
        </text>
      )}
    </g>
  );
}

function YTick({ y, payload }: any) {
  const v = payload.value;
  const decade = Number.isInteger(v);
  const len = decade ? 56 : 29;
  return (
    <g>
      <line x1={plotLeft} x2={plotLeft + len} y1={y} y2={y} stroke={axisGray} strokeWidth={2} />
      <line x1={plotRight} x2={plotRight - len} y1={y} y2={y} stroke={axisGray} strokeWidth={2} />
      {decade && (
        <g fontFamily="DejaVu Sans" fill={labelGray}>
          <text x={144} y={y + 17} fontSize={47}>10</text>
          <text x={208} y={y - 18} fontSize={30}>{`\u2212${Math.abs(v)}`}</text>
        </g>
      )}
    </g>
  );
}

const yTicks = [-21, ...decades.flatMap((d) => multiples.map((m) => d + Math.log10(m)))];

export default function App() {
  return (
    <div style={{ position: "absolute", left: 0, top: 0, width: 2561, height: 1812, background: "#fff" }}>
      <ComposedChart
        width={2561}
        height={1812}
        margin={{ top: plotTop, right: 2561 - plotRight, bottom: 1812 - plotBottom - 1, left: plotLeft - 1 }}
      >
        <XAxis
          dataKey="x"
          type="number"
          domain={X_DOMAIN}
          ticks={xTicks}
          interval={0}
          height={1}
          allowDataOverflow
          tickLine={false}
          axisLine={{ stroke: axisGray, strokeWidth: 2 }}
          tick={XTick}
        />
        <YAxis
          type="number"
          domain={Y_DOMAIN}
          ticks={yTicks}
          interval={0}
          width={1}
          allowDataOverflow
          tickLine={false}
          axisLine={{ stroke: axisGray, strokeWidth: 2 }}
          tick={YTick}
        />
        <ReferenceArea x1={X_DOMAIN[0]} x2={X_DOMAIN[1]} y1={Y_DOMAIN[0]} y2={Y_DOMAIN[1]} fill="none" stroke={axisGray} strokeWidth={2} />

        <Band rows={rangeRows(o21X, o21Hi)} color="#00f4f4" />
        <Band rows={rangeRows(ohMixEX, ohMixEHi, ohMixELo)} color="#bdbdbd" />

        <Band rows={stickRows(ohHairX, ohHairTop, ohHairLow)} color="#a8a8a8" line={0} />
        <Band rows={rangeRows(oh1X, oh1Hi, oh1Lo)} color="#919191" />
        <Band rows={rangeRows(oh2X, oh2Hi, oh2Lo)} color="#919191" />
        <Band rows={rangeRows(oh3X, oh3Hi, oh3Lo)} color="#919191" />
        <Band rows={rangeRows(oh4X, oh4Hi, oh4Lo)} color="#919191" />
        <Band rows={rangeRows(oh5X, oh5Hi, oh5Lo)} color="#919191" />

        <Band rows={stickRows(shHairX, shHairTop, shHairLow)} color="#ffc27a" line={0} />
        <Band rows={stickRows(shFuzzX, shFuzzTop, undefined, 0.001)} color="#ff9300" line={0} />
        <Band rows={rangeRows(sh1X, sh1Hi, sh1Lo)} color="#ff9300" />
        <Band rows={rangeRows(sh2X, sh2Hi, sh2Lo)} color="#ff9300" />
        <Band rows={rangeRows(sh3X, sh3Hi, sh3Lo)} color="#ff9300" />
        <Band rows={rangeRows(sh4X, sh4Hi, sh4Lo)} color="#ff9300" />
        <Band rows={rangeRows(sh5X, sh5Hi, sh5Lo)} color="#ff9300" />

        <Band rows={stickRows(h2oHairX, h2oHairTop, h2oHairLow)} color="#666666" line={0} />
        <Band rows={stickRows(h2oFuzzX, h2oFuzzTop, h2oFuzzLow, 0.0011)} color="#000000" line={0} />
        <Band rows={rangeRows(h2oX, h2oHi, h2oLo)} color="#000000" />

        <Band rows={stickRows(co2ThinX, co2ThinTop, co2ThinLow)} color="#ffa8a0" line={0} />
        <Band rows={stickRows(co2JagX, co2JagTop, co2JagLow, 0.0012)} color="#ff2600" line={0} />
        <Band rows={rangeRows(co21X, co21Hi, co21Lo)} color="#ff2600" />
        <Band rows={rangeRows(co22X, co22Hi, co22Lo)} color="#ff2600" />
        <Band rows={rangeRows(co23X, co23Hi, co23Lo)} color="#ff2600" />
        <Band rows={rangeRows(co24X, co24Hi, co24Lo)} color="#ff2600" />
        <Band rows={rangeRows(co25X, co25Hi, co25Lo)} color="#ff2600" />

        <Band rows={stickRows(hclPaleX, hclPaleTop, hclPaleLow, 0.001)} color="#8f9bff" line={0} />
        <Band rows={stickRows(hclStrongX, hclStrongTop, hclStrongLow, 0.001)} color="#1f46ff" line={0} />

        <Band rows={rangeRows(hfBandX, hfBandHi, hfBandLo)} color="#ff33ff" />
        <Band rows={stickRows(hfX, hfTop, hfLow, 0.001)} color="#ff66ff" opacity={0.55} line={0} />

        <Band rows={stickRows(h2sHairX, h2sHairTop, h2sHairLow)} color="#8ff08f" line={0} />
        <Band rows={stickRows(h2sFuzzX, h2sFuzzTop, h2sFuzzLow, 0.0011)} color="#00f800" line={0} />
        <Band rows={rangeRows(h2s1X, h2s1Hi)} color="#00f800" />
        <Band rows={rangeRows(h2s2X, h2s2Hi)} color="#00f800" />
        <Band rows={rangeRows(h2s3X, h2s3Hi)} color="#00f800" />
        <Band rows={rangeRows(h2s4X, h2s4Hi, h2s4Lo)} color="#00f800" />
        <Band rows={rangeRows(h2s5X, h2s5Hi, h2s5Lo)} color="#00f800" />

        <Band rows={rangeRows(ohMixDX, ohMixDHi, ohMixDLo)} color="#8f8f8f" opacity={0.85} />
        <Band rows={rangeRows(ohMixFX, ohMixFHi, ohMixFLo)} color="#a0a0a0" opacity={0.6} />
        <Band rows={stickRows(ohForestX, ohForestTop, undefined, 0.001)} color="#9a9a9a" line={0} />
        <Band rows={stickRows(ohOverX, ohOverTop, ohOverLow, 0.0009)} color="#8f8f8f" opacity={0.75} line={0} />
        <Band rows={rangeRows(o22X, o22Hi)} color="#00f4f4" opacity={0.5} />
        <Band rows={rangeRows(o23X, o23Hi)} color="#00f4f4" />

        <text x={400} y={186} fontFamily="Lato" fontSize={92} fill="#000" textLength={512} lengthAdjust="spacingAndGlyphs">1000 K, 1 bar</text>
        <text x={361} y={571} fontFamily="Lato" fontSize={90} fill="#808080" textLength={124} lengthAdjust="spacingAndGlyphs">OH</text>
        <text x={598} y={659} fontFamily="Lato" fontSize={90} fill="#f98013" textLength={105} lengthAdjust="spacingAndGlyphs">SH</text>
        <text x={969} y={495} fontFamily="Lato" fontSize={84} fill="#000">
          H<tspan fontSize={54} dy={9}>2</tspan><tspan dy={-9}>O</tspan>
        </text>
        <text x={1866} y={768} fontFamily="Lato" fontSize={84} fill="#f5000f">
          CO<tspan fontSize={54} dy={9}>2</tspan>
        </text>
        <text x={1951} y={204} fontFamily="Lato" fontSize={90} fill="#ff2bff" textLength={101} lengthAdjust="spacingAndGlyphs">HF</text>
        <text x={1505} y={906} fontFamily="Lato" fontSize={90} fill="#3a2bf0" textLength={138} lengthAdjust="spacingAndGlyphs">HCl</text>
        <text x={1172} y={1243} fontFamily="Lato" fontSize={85} fill="#00ee00">
          H<tspan fontSize={54} dy={9}>2</tspan><tspan dy={-9}>S</tspan>
        </text>
        <text x={1620} y={1561} fontFamily="Lato" fontSize={90} fill="#84f2ff" stroke="#fff" strokeWidth={6} paintOrder="stroke">
          O<tspan fontSize={56} dy={9}>2</tspan>
        </text>

        <text x={1081} y={1793} fontFamily="Lato" fontSize={75} fill="#000">Wavelength</text>
        <text x={1510} y={1793} fontFamily="DejaVu Sans" fontSize={58} fill="#222">
          (<tspan fontStyle="italic">μ</tspan>m)
        </text>
        <text transform="translate(91,1192) rotate(-90)" fontFamily="Lato" fontSize={90} fill="#000" textLength={890} lengthAdjust="spacingAndGlyphs">
          absorption coef. (cm<tspan fontSize={56} dy={-32}>-2</tspan><tspan dy={32}>)</tspan>
        </text>
      </ComposedChart>
    </div>
  );
}
